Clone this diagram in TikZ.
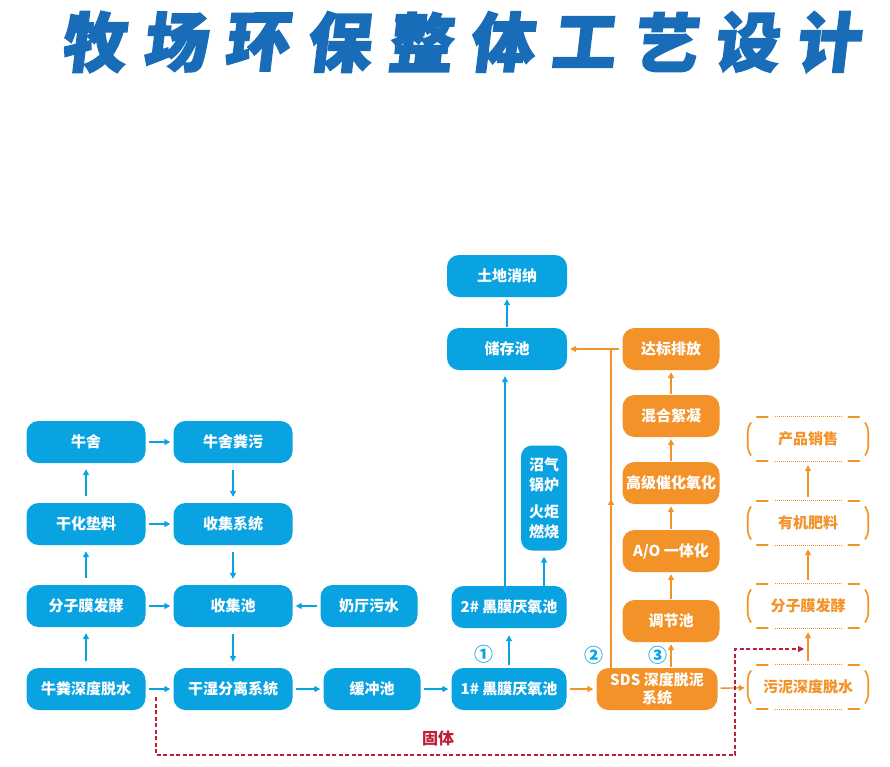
\documentclass[tikz,border=0pt]{standalone}
\usepackage{fontspec}
\newfontfamily\cjk{Noto Sans CJK SC}
\newfontfamily\titlefont{Noto Sans CJK SC}[FakeSlant=0.12,FakeBold=3]
\usetikzlibrary{arrows.meta,calc,decorations.markings}
\definecolor{cblue}{RGB}{10,163,225}
\definecolor{corange}{RGB}{242,146,40}
\definecolor{tblue}{RGB}{24,108,184}
\definecolor{cred}{RGB}{190,30,55}
\tikzset{
  bbox/.style={fill=cblue, rounded corners=12pt, minimum height=42pt, minimum width=119pt,
    inner sep=0pt, text=white, font=\cjk\bfseries\fontsize{15}{18}\selectfont, align=center},
  obox/.style={bbox, fill=corange, minimum width=97pt},
  dbox/.style={minimum width=120pt, minimum height=44pt, inner sep=0pt, text=corange,
    font=\cjk\bfseries\fontsize{15}{18}\selectfont},
  barr/.style={draw=cblue, line width=1.4pt, -{Triangle[length=6pt,width=6pt]}},
  oarr/.style={barr, draw=corange},
  hsh/.style={shorten <=3pt, shorten >=3pt},
  vsh/.style={shorten <=7pt, shorten >=6pt},
  osh/.style={shorten <=1pt, shorten >=2pt},
  dsh/.style={shorten <=4pt, shorten >=4pt},
  obord/.style={draw=corange, line width=1.7pt, line cap=round},
  odot/.style={draw=corange, line width=1pt, dash pattern=on 0.9pt off 1.1pt},
  midarr/.style={decoration={markings, mark=at position 0.53 with {\arrow{Triangle[length=6pt,width=6pt]}}}, postaction={decorate}},
  circnum/.style={text=cblue, font=\cjk\bfseries\fontsize{19}{20}\selectfont, inner sep=0pt},
  titlech/.style={text=tblue, font=\titlefont\bfseries\fontsize{64}{66}\selectfont, inner sep=0pt}
}
\newcommand\mydashbox[1]{%
  \draw[obord] ([xshift=9pt]#1.north west) -- ([xshift=20pt]#1.north west);
  \draw[obord] ([xshift=-9pt]#1.north east) -- ([xshift=-20pt]#1.north east);
  \draw[obord] ([xshift=9pt]#1.south west) -- ([xshift=20pt]#1.south west);
  \draw[obord] ([xshift=-9pt]#1.south east) -- ([xshift=-20pt]#1.south east);
  \draw[odot] ([xshift=27pt]#1.north west) -- ([xshift=-27pt]#1.north east);
  \draw[odot] ([xshift=27pt]#1.south west) -- ([xshift=-27pt]#1.south east);
  \draw[obord] ([xshift=3pt,yshift=-6pt]#1.north west) to[out=-115,in=90] ([yshift=-14pt]#1.north west)
     -- ([yshift=14pt]#1.south west) to[out=-90,in=115] ([xshift=3pt,yshift=6pt]#1.south west);
  \draw[obord] ([xshift=-3pt,yshift=-6pt]#1.north east) to[out=-65,in=90] ([yshift=-14pt]#1.north east)
     -- ([yshift=14pt]#1.south east) to[out=-90,in=65] ([xshift=-3pt,yshift=6pt]#1.south east);
}
\begin{document}
\begin{tikzpicture}[x=1pt,y=-1pt]
\useasboundingbox (0,0) rectangle (890,766);
% title
\foreach \ch [count=\i from 0] in {牧,场,环,保,整,体,工,艺,设,计}
  \node[titlech] (t\i) at (93+81.6*\i,42) {\ch};
% blue boxes
\node[bbox] (cs)   at (86,442) {牛舍};
\node[bbox] (csw)  at (233,442) {牛舍粪污};
\node[bbox] (gh)   at (86,524) {干化垫料};
\node[bbox] (sjx)  at (233,524) {收集系统};
\node[bbox] (fz)   at (86,606) {分子膜发酵};
\node[bbox] (sjc)  at (233,606) {收集池};
\node[bbox, minimum width=97pt] (nt) at (369,606) {奶厅污水};
\node[bbox] (nf)   at (86,689) {牛粪深度脱水};
\node[bbox] (gs)   at (233,689) {干湿分离系统};
\node[bbox, minimum width=97pt] (hc) at (372,689) {缓冲池};
\node[bbox, minimum width=115pt] (h1) at (509,689) {1\# 黑膜厌氧池};
\node[bbox, minimum width=115pt] (h2) at (509,607) {2\# 黑膜厌氧池};
\node[bbox, minimum width=46pt, minimum height=105pt, rounded corners=11pt,
  font=\cjk\bfseries\fontsize{15}{20}\selectfont] (zq) at (544,498)
  {沼气\\锅炉\\[7pt]火炬\\燃烧};
\node[bbox, minimum width=120pt] (cc) at (507,349) {储存池};
\node[bbox, minimum width=120pt] (td) at (507,276) {土地消纳};
% orange boxes
\node[obox] (db) at (671,349) {达标排放};
\node[obox] (hh) at (671,416) {混合絮凝};
\node[obox] (gj) at (671,483) {高级催化氧化};
\node[obox] (ao) at (671,551) {A/O 一体化};
\node[obox] (tj) at (671,621) {调节池};
\node[obox, minimum width=121pt, font=\cjk\bfseries\fontsize{15}{18}\selectfont] (sds) at (657,689) {SDS 深度脱泥\\系统};
% dashed boxes
\node[dbox] (cp)  at (808,439) {产品销售};
\node[dbox] (yj)  at (808,523) {有机肥料};
\node[dbox] (fz2) at (808,606) {分子膜发酵};
\node[dbox] (wn)  at (808,687) {污泥深度脱水};
\foreach \n in {cp,yj,fz2,wn} {\mydashbox{\n}}
% blue arrows
\draw[barr, hsh] (cs) -- (csw);
\draw[barr, hsh] (gh) -- (sjx);
\draw[barr, hsh] (fz) -- (sjc);
\draw[barr, hsh] (nf) -- (gs);
\draw[barr, hsh] (nt) -- (sjc);
\draw[barr, hsh] (gs) -- (hc);
\draw[barr, hsh] (hc) -- (h1);
\draw[barr, vsh] (nf) -- (fz);
\draw[barr, vsh] (fz) -- (gh);
\draw[barr, vsh] (gh) -- (cs);
\draw[barr, vsh] (csw) -- (sjx);
\draw[barr, vsh] (sjx) -- (sjc);
\draw[barr, vsh] (sjc) -- (gs);
\draw[barr, shorten <=3pt, shorten >=7pt] (h1) -- (h2);
\draw[barr, shorten >=6pt] ([xshift=-4pt]h2.north) -- ([xshift=-2pt]cc.south);
\draw[barr, shorten >=6pt] (h2.north -| zq) -- (zq);
\draw[barr, osh] (cc) -- (td);
% orange arrows
\draw[oarr, hsh] (h1) -- (sds);
\draw[oarr, hsh] (sds) -- (wn);
\draw[oarr, osh] (sds.north -| tj) -- (tj);
\draw[oarr, osh] (tj) -- (ao);
\draw[oarr, osh] (ao) -- (gj);
\draw[oarr, osh] (gj) -- (hh);
\draw[oarr, osh] (hh) -- (db);
\draw[oarr, dsh] (wn) -- (fz2);
\draw[oarr, dsh] (fz2) -- (yj);
\draw[oarr, dsh] (yj) -- (cp);
\draw[oarr, hsh] (db) -- (cc);
\coordinate (J) at (611,349);
\draw[draw=corange, line width=1.4pt, midarr, color=corange] (J |- sds.north) -- (J);
% circled numbers
\node[circnum] (n1) at (484,654) {①};
\node[circnum] (n2) at (594,655) {②};
\node[circnum] (n3) at (658,655) {③};
% red dashed path
\coordinate (rs) at (156,697);
\coordinate (rc) at (735,755);
\coordinate (re) at (804,649);
\draw[cred, line width=1.1pt, dash pattern=on 4pt off 2.5pt, -{Triangle[length=6pt,width=6pt]}] (rs) |- (rc) |- (re);
\node[text=cred, font=\cjk\bfseries\fontsize{16}{18}\selectfont, inner sep=0pt] (gt) at (438,738) {固体};
\end{tikzpicture}
\end{document}
